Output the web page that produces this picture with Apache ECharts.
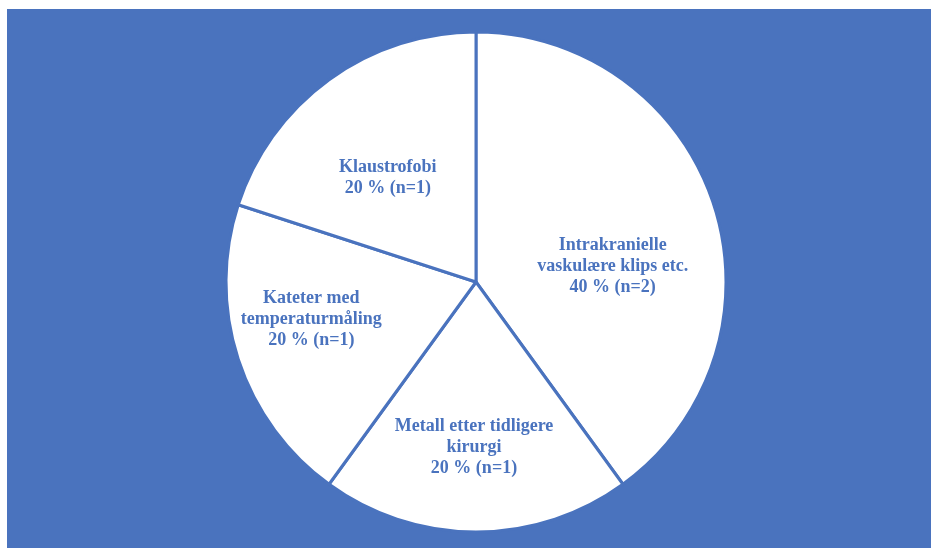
<!DOCTYPE html>
<html>
<head>
<meta charset="utf-8">
<script src="https://cdn.jsdelivr.net/npm/echarts@6/dist/echarts.min.js"></script>
<style>
html,body{margin:0;padding:0;background:#ffffff;}
#chart{width:931px;height:548px;}
</style>
</head>
<body>
<div id="chart"></div>
<script>
// Data
var categories = [
  "Intrakranielle\nvaskulære klips etc.",
  "Metall etter tidligere\nkirurgi",
  "Kateter med\ntemperaturmåling",
  "Klaustrofobi"
];
var percents = [40, 20, 20, 20];
var counts = [2, 1, 1, 1];

// Styling / label nudges (not data)
var BLUE = "#4A73BE";
var labelNudge = [[15, 24], [-2, 37], [-43, -2], [-13, -1]];

var chart = echarts.init(document.getElementById('chart'));
var data = categories.map(function (c, i) {
  return { name: c, value: percents[i], n: counts[i] };
});
chart.setOption({
  backgroundColor: '#ffffff',
  animation: false,
  graphic: [{
    type: 'rect', z: -10, silent: true,
    shape: { x: 7, y: 9, width: 924, height: 539 },
    style: { fill: BLUE }
  }],
  series: [{
    type: 'pie',
    center: [476, 282],
    radius: [0, 250],
    startAngle: 90,
    clockwise: true,
    data: data,
    itemStyle: { color: '#ffffff', borderColor: BLUE, borderWidth: 3 },
    label: {
      show: true,
      position: 'inside',
      color: BLUE,
      fontFamily: '"Liberation Serif", "Times New Roman", serif',
      fontWeight: 'bold',
      fontSize: 18,
      lineHeight: 21,
      align: 'center',
      formatter: function (p) {
        return p.name + '\n' + p.value + ' % (n=' + p.data.n + ')';
      }
    },
    labelLayout: function (p) {
      var d = labelNudge[p.dataIndex];
      return { dx: d[0], dy: d[1] };
    },
    emphasis: { disabled: true }
  }]
});
</script>
</body>
</html>
